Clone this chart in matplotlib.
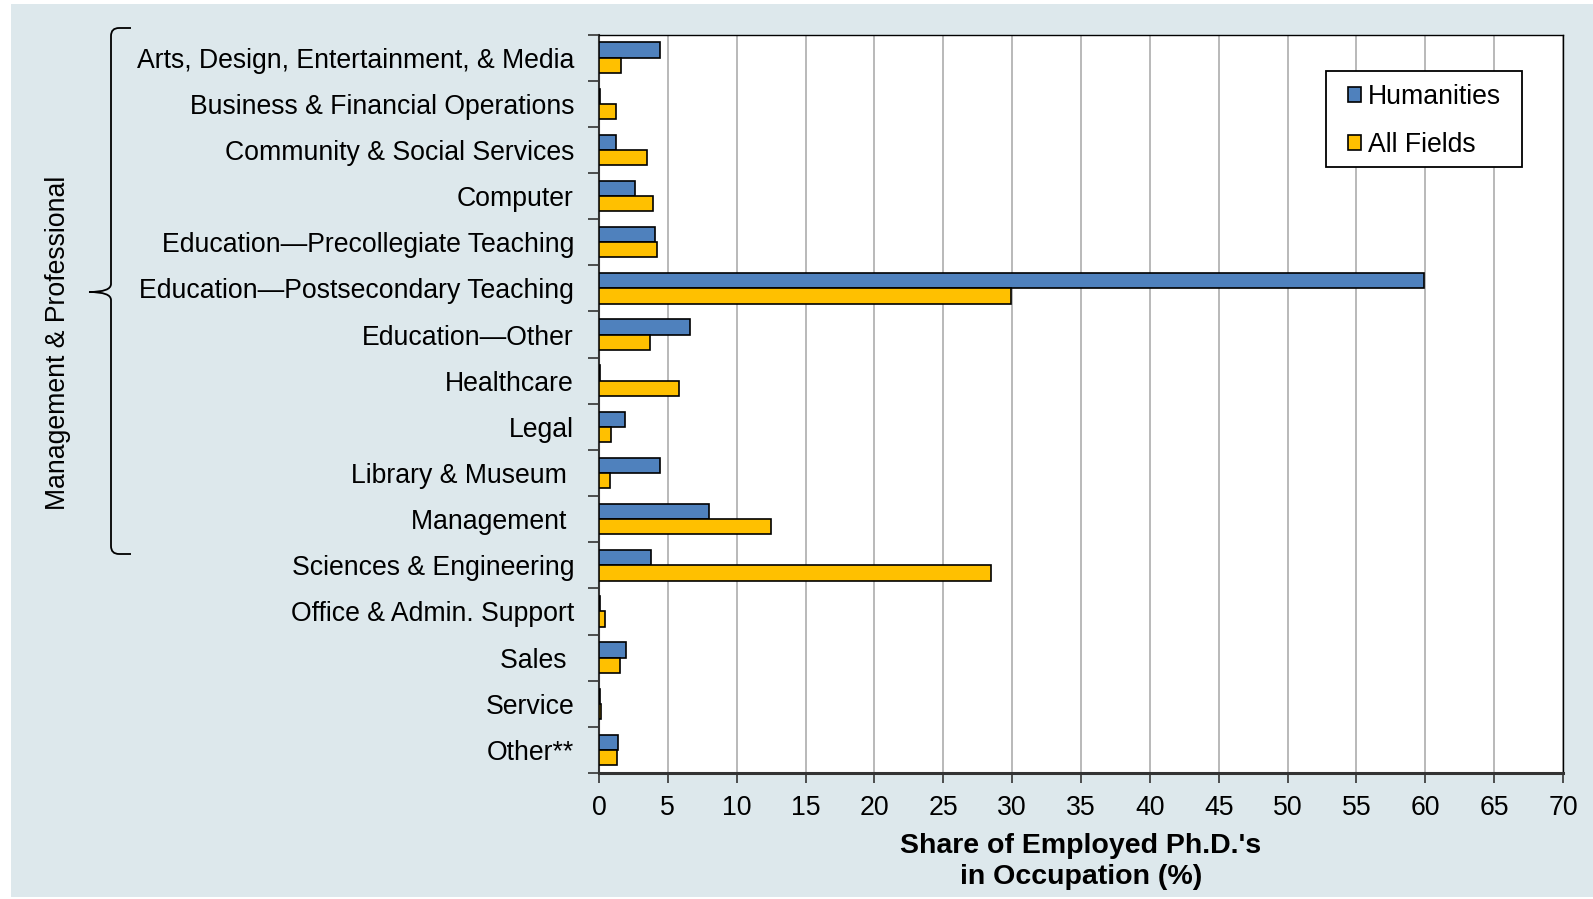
"""Occupations of employed humanities Ph.D.'s versus all fields."""

import matplotlib

matplotlib.use("Agg")
import matplotlib.pyplot as plt
import numpy as np
from matplotlib.patches import PathPatch, Rectangle
from matplotlib.path import Path

plt.rcParams["font.family"] = ["Liberation Sans", "DejaVu Sans"]

occupations = [
    "Arts, Design, Entertainment, & Media",
    "Business & Financial Operations",
    "Community & Social Services",
    "Computer",
    "Education\u2014Precollegiate Teaching",
    "Education\u2014Postsecondary Teaching",
    "Education\u2014Other",
    "Healthcare",
    "Legal",
    "Library & Museum ",
    "Management ",
    "Sciences & Engineering",
    "Office & Admin. Support",
    "Sales ",
    "Service",
    "Other**",
]
humanities = [4.4, 0.05, 1.2, 2.6, 4.1, 59.9, 6.6, 0.05, 1.9, 4.4, 8.0, 3.8, 0.05, 1.95, 0.05, 1.4]
all_fields = [1.6, 1.2, 3.5, 3.9, 4.2, 29.9, 3.7, 5.8, 0.85, 0.8, 12.5, 28.5, 0.45, 1.5, 0.15, 1.3]
x_ticks = list(range(0, 75, 5))
group_label = "Management & Professional"

BLUE = "#4f81bd"
GOLD = "#ffc000"
PANEL = "#dde8ec"
FS = 19.2
W, H = 1593, 899

fig = plt.figure(figsize=(W / 100, H / 100), dpi=100)
fig.patches.append(Rectangle((11 / W, 1 - 897 / H), 1582 / W, 893 / H,
                             transform=fig.transFigure, facecolor=PANEL, edgecolor="none", zorder=-1))

ax = fig.add_axes([599 / W, 1 - 773 / H, 964 / W, 738.5 / H])
ax.set_facecolor("white")

pos = np.arange(len(occupations))
h = 0.33
ax.barh(pos - h / 2, humanities, height=h, color=BLUE, edgecolor="black", linewidth=1.2,
        label="Humanities", zorder=3)
ax.barh(pos + h / 2, all_fields, height=h, color=GOLD, edgecolor="black", linewidth=1.2,
        label="All Fields", zorder=3)

ax.set_ylim(len(occupations) - 0.5, -0.5)
ax.set_xlim(0, 70)
ax.set_xticks(x_ticks)
ax.set_yticks(pos)
ax.set_yticklabels(occupations, fontsize=FS)
ax.set_yticks(np.arange(-0.5, len(occupations), 1), minor=True)
ax.tick_params(axis="y", which="major", length=0, pad=18)
ax.tick_params(axis="y", which="minor", length=8, width=1.2, color="#333333")
ax.tick_params(axis="x", length=7, width=1.2, labelsize=FS, pad=9, color="#333333")
ax.xaxis.grid(True, color="#a6a6a6", linewidth=1.1, zorder=0)
ax.set_axisbelow(True)

ax.spines["left"].set_linewidth(1.5)
ax.spines["left"].set_color("#333333")
ax.spines["bottom"].set_linewidth(2.2)
ax.spines["bottom"].set_color("#333333")
ax.spines["top"].set_linewidth(1.0)
ax.spines["right"].set_linewidth(1.0)

ax.set_xlabel("Share of Employed Ph.D.'s\nin Occupation (%)", fontsize=20.5, fontweight="bold",
              labelpad=8.5, linespacing=1.27)

# legend box drawn separately so the padding can match the original
ax.add_patch(Rectangle((1326 / W, 1 - 167 / H), 196 / W, 96 / H, transform=fig.transFigure,
                       facecolor="white", edgecolor="black", linewidth=1.3, zorder=5,
                       clip_on=False))
leg = ax.legend(loc="upper left", fontsize=FS, frameon=False,
                handlelength=0.5, handleheight=0.5, handletextpad=0.25, labelspacing=0.82,
                borderpad=0.0, borderaxespad=0.0)
leg.set_bbox_to_anchor((1348 / W, 1 - 84 / H), transform=fig.transFigure)
leg.set_zorder(6)

# brace spanning the management & professional group
x_in, x_out, x_tip = 131, 111, 89
y_top, y_bot, y_mid = 28, 554, 292
r = 8
verts = [
    (x_in, y_top), (x_out + r, y_top), (x_out, y_top), (x_out, y_top + r),
    (x_out, y_mid - r), (x_out, y_mid), (x_tip, y_mid),
    (x_out, y_mid), (x_out, y_mid + r),
    (x_out, y_bot - r), (x_out, y_bot), (x_out + r, y_bot), (x_in, y_bot),
]
codes = [
    Path.MOVETO, Path.LINETO, Path.CURVE3, Path.CURVE3,
    Path.LINETO, Path.CURVE3, Path.CURVE3,
    Path.CURVE3, Path.CURVE3,
    Path.LINETO, Path.CURVE3, Path.CURVE3, Path.LINETO,
]
verts = [(x / W, 1 - y / H) for x, y in verts]
fig.patches.append(PathPatch(Path(verts, codes), transform=fig.transFigure,
                             facecolor="none", edgecolor="black", linewidth=1.3))
fig.text(58 / W, 1 - 343 / H, group_label, rotation=90, fontsize=FS,
         ha="center", va="center")

fig.savefig("out.png", dpi=100, facecolor="white")
